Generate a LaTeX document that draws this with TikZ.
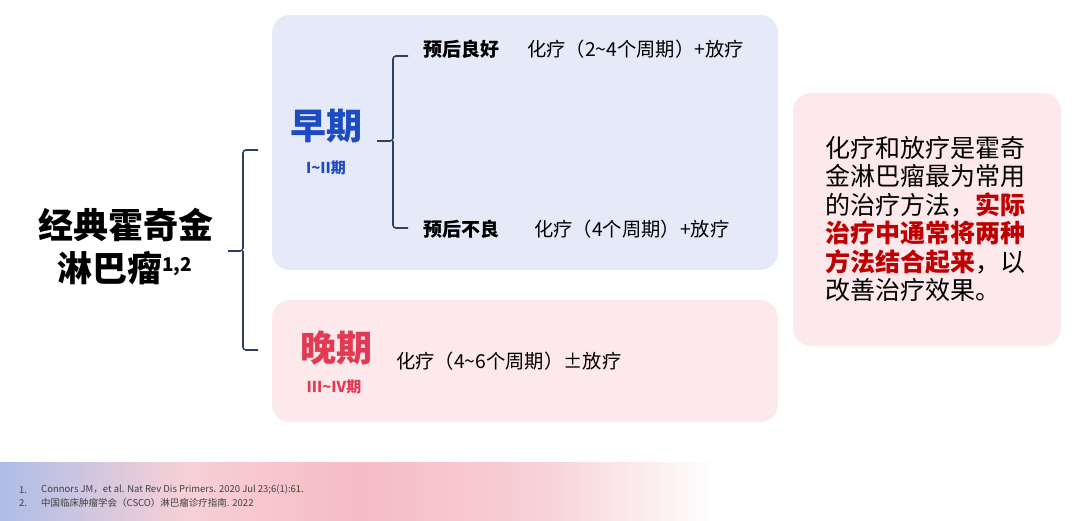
\documentclass[tikz,border=0pt]{standalone}
\usepackage{fontspec}
\setmainfont{Noto Sans CJK SC}
\setsansfont{Noto Sans CJK SC}
\definecolor{bluebox}{HTML}{E6EAF8}
\definecolor{pinkbox}{HTML}{FDE8EC}
\definecolor{bracecol}{HTML}{2F3F5F}
\definecolor{earlyblue}{HTML}{1D4BC2}
\definecolor{latered}{HTML}{E23A52}
\definecolor{emred}{HTML}{C00000}
\definecolor{footblue}{HTML}{AEBDE8}
\definecolor{footpink}{HTML}{F7D0D5}
\definecolor{footpinkb}{HTML}{F6BCC3}
\definecolor{reftext}{HTML}{404040}
\pgfdeclarehorizontalshading{footshade}{100bp}{color(0bp)=(footblue); color(25bp)=(footblue); color(38bp)=(footpink); color(50bp)=(footpinkb); color(62bp)=(footpink); color(75bp)=(white); color(100bp)=(white)}
\begin{document}
\begin{tikzpicture}[x=1pt,y=-1pt,
  panel/.style={draw=none,rounded corners=18pt},
  bracel/.style={draw=bracecol,line width=1.6pt,rounded corners=3pt},
  title/.style={font=\fontsize{35}{40}\selectfont\bfseries,inner sep=0pt},
  stage/.style={font=\fontsize{36}{40}\selectfont\bfseries,inner sep=0pt},
  sub/.style={font=\fontsize{15}{16}\selectfont\bfseries,inner sep=0pt},
  prog/.style={font=\fontsize{19}{20}\selectfont\bfseries,anchor=west,inner sep=0pt},
  treat/.style={font=\fontsize{19.3}{20}\selectfont,anchor=west,inner sep=0pt},
  ref/.style={font=\fontsize{9.5}{10}\selectfont,text=reftext,anchor=west,inner sep=0pt}]
\useasboundingbox (0,0) rectangle (1080,521);
\fill[white] (0,0) rectangle (1080,521);
% footer band
\shade[shading=footshade] (0,463) rectangle (720,521);
% panels
\fill[bluebox,panel] (272,15) rectangle (778,270);
\fill[pinkbox,panel] (272,300) rectangle (778,422);
\fill[pinkbox,panel] (793,93) rectangle (1061,346);
% title
\node[title] (t1) at (126,225) {经典霍奇金};
\node[title,anchor=west] (t2) at (57,268) {淋巴瘤\raisebox{10pt}{\fontsize{19}{20}\selectfont 1,2}};
% big brace
\coordinate (bT) at (258,150);
\coordinate (bB) at (258,350);
\coordinate (bM) at (228,251);
\draw[bracel] (bT) -- (243,150) -- (243,251) -- (bM);
\draw[bracel] (bB) -- (243,350) -- (243,251);
% early
\node[stage,text=earlyblue] (early) at (326,126) {早期};
\node[sub,text=earlyblue] (earlysub) at (326,168) {I\char"007E II期};
% small brace
\coordinate (sT) at (408,56);
\coordinate (sB) at (408,228);
\coordinate (sM) at (377,141);
\draw[bracel] (sT) -- (393,56) -- (393,141) -- (sM);
\draw[bracel] (sB) -- (393,228) -- (393,141);
\node[prog] (good) at (423,49) {预后良好};
\node[treat] (goodt) at (527,49) {化疗（2\char"007E 4个周期）+放疗};
\node[prog] (bad) at (423,229) {预后不良};
\node[treat] (badt) at (534,229) {化疗（4个周期）+放疗};
% late
\node[stage,text=latered] (late) at (336,348) {晚期};
\node[sub,text=latered] (latesub) at (334,387) {III\char"007E IV期};
\node[treat] (latet) at (396,361) {化疗（4\char"007E 6个周期）±放疗};
% right text
\node[font=\fontsize{25}{28.5}\selectfont,align=left,anchor=north west,inner sep=0pt] (note) at (825,136)
{化疗和放疗是霍奇\\金淋巴瘤最为常用\\的治疗方法，\textcolor{emred}{\bfseries 实际}\\\textcolor{emred}{\bfseries 治疗中通常将两种}\\\textcolor{emred}{\bfseries 方法结合起来}，以\\改善治疗效果。};
% references
\node[ref] (r1n) at (19,490) {1.};
\node[ref] (r1) at (41,490) {Connors JM，et al. Nat Rev Dis Primers. 2020 Jul 23;6(1):61.};
\node[ref] (r2n) at (19,503) {2.};
\node[ref] (r2) at (41,503) {中国临床肿瘤学会（CSCO）淋巴瘤诊疗指南. 2022};
\end{tikzpicture}
\end{document}
